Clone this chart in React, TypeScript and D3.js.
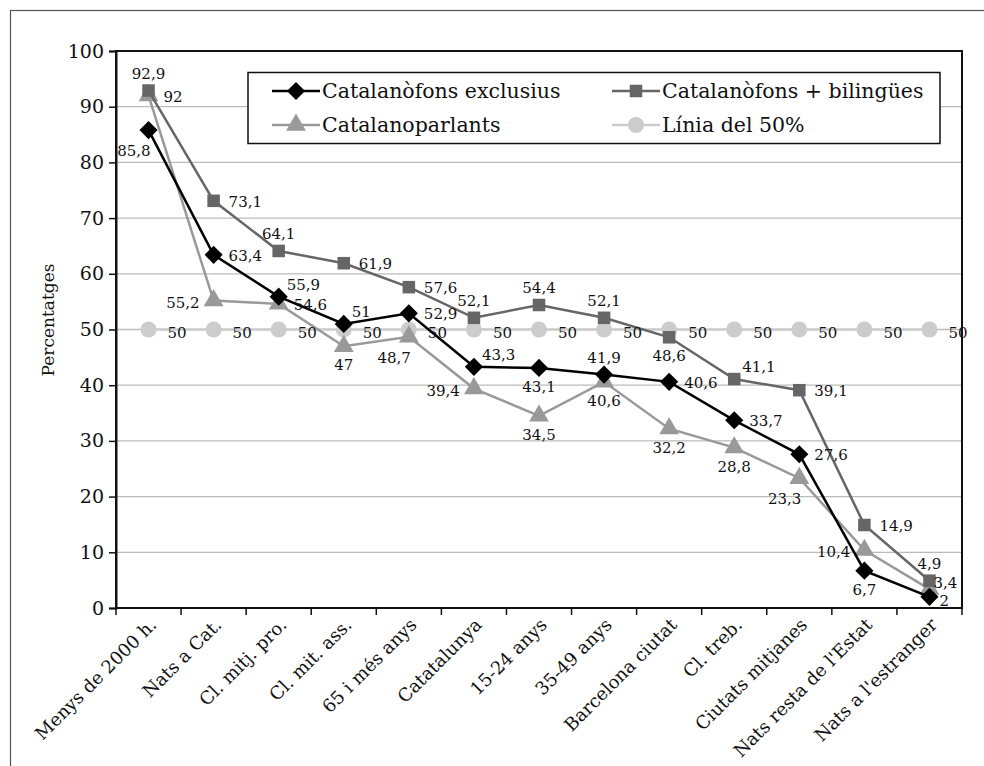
import React, { useEffect, useRef } from 'react';
import * as d3 from 'd3';

const categories = [
  'Menys de 2000 h.', 'Nats a Cat.', 'Cl. mitj. pro.', 'Cl. mit. ass.', '65 i més anys',
  'Catatalunya', '15-24 anys', '35-49 anys', 'Barcelona ciutat', 'Cl. treb.',
  'Ciutats mitjanes', "Nats resta de l'Estat", "Nats a l'estranger",
];

const exclusius = [85.8, 63.4, 55.9, 51, 52.9, 43.3, 43.1, 41.9, 40.6, 33.7, 27.6, 6.7, 2];
const bilingues = [92.9, 73.1, 64.1, 61.9, 57.6, 52.1, 54.4, 52.1, 48.6, 41.1, 39.1, 14.9, 4.9];
const parlants = [92, 55.2, 54.6, 47, 48.7, 39.4, 34.5, 40.6, 32.2, 28.8, 23.3, 10.4, 3.4];
const linia50 = [50, 50, 50, 50, 50, 50, 50, 50, 50, 50, 50, 50, 50];

const yTicks = [0, 10, 20, 30, 40, 50, 60, 70, 80, 90, 100];

// where each value label sits relative to its point (r right, l left, a above, b below, ...)
const exclusiusPos = ['bl', 'r', 'ar', 'ar', 'r', 'ar', 'b', 'a', 'r', 'r', 'r', 'b', 'rb'];
const bilinguesPos = ['a', 'r', 'a', 'r', 'r', 'a', 'a', 'a', 'b', 'ar', 'r', 'r', 'a'];
const parlantsPos = ['r', 'l', 'r', 'b', 'bl', 'l', 'b', 'b', 'b', 'b', 'bl', 'l', 'rt'];
const liniaPos = ['c', 'c', 'c', 'c', 'c', 'c', 'c', 'c', 'c', 'c', 'c', 'c', 'c'];

const FONT = "'DejaVu Serif', 'Liberation Serif', serif";

const App: React.FC = () => {
  const svgRef = useRef<SVGSVGElement>(null);

  useEffect(() => {
    if (!svgRef.current) return;
    const svg = d3.select(svgRef.current);
    svg.selectAll('*').remove();

    const width = 984;
    const height = 766;
    const margin = { top: 51, right: 22, bottom: 158, left: 116 };

    // outer frame
    svg.append('rect')
      .attr('x', 10.5).attr('y', 10.5)
      .attr('width', 990).attr('height', 800)
      .attr('fill', 'white')
      .attr('stroke', '#555').attr('stroke-width', 1.2);

    const x = d3.scaleBand()
      .domain(categories)
      .range([margin.left, width - margin.right]);

    const y = d3.scaleLinear()
      .domain([0, 100])
      .range([height - margin.bottom, margin.top]);

    const cx = (i: number) => x(categories[i])! + x.bandwidth() / 2;

    // gridlines
    svg.append('g')
      .selectAll('line')
      .data(yTicks.filter(t => t > 0 && t < 100))
      .join('line')
      .attr('x1', margin.left).attr('x2', width - margin.right)
      .attr('y1', d => y(d)).attr('y2', d => y(d))
      .attr('stroke', '#bbbbbb').attr('stroke-width', 1.3);

    // plot box
    svg.append('rect')
      .attr('x', margin.left).attr('y', margin.top)
      .attr('width', width - margin.right - margin.left)
      .attr('height', y(0) - y(100))
      .attr('fill', 'none').attr('stroke', '#111').attr('stroke-width', 2);

    // y axis
    const yAxis = svg.append('g')
      .attr('transform', `translate(${margin.left},0)`)
      .call(d3.axisLeft(y).tickValues(yTicks).tickSize(7).tickPadding(5));
    yAxis.select('.domain').attr('stroke', '#111').attr('stroke-width', 2);
    yAxis.selectAll('.tick line').attr('stroke', '#111').attr('stroke-width', 1.5);
    yAxis.selectAll('text')
      .attr('font-family', FONT).attr('font-size', 19).attr('fill', '#111');

    // x axis with boundary ticks
    const bounds = d3.range(categories.length + 1).map(i => margin.left + i * x.bandwidth());
    svg.append('line')
      .attr('x1', margin.left).attr('x2', width - margin.right)
      .attr('y1', y(0)).attr('y2', y(0))
      .attr('stroke', '#111').attr('stroke-width', 2);
    svg.append('g')
      .selectAll('line')
      .data(bounds)
      .join('line')
      .attr('x1', d => d).attr('x2', d => d)
      .attr('y1', y(0)).attr('y2', y(0) + 7)
      .attr('stroke', '#111').attr('stroke-width', 1.5);

    svg.append('g')
      .selectAll('text')
      .data(categories)
      .join('text')
      .attr('transform', (_, i) => `translate(${cx(i) + 9},${y(0) + 18}) rotate(-45)`)
      .attr('text-anchor', 'end')
      .attr('font-family', FONT).attr('font-size', 18).attr('fill', '#111')
      .text(d => d);

    // y title
    svg.append('text')
      .attr('transform', `translate(${54},${320}) rotate(-90)`)
      .attr('text-anchor', 'middle')
      .attr('font-family', FONT).attr('font-size', 17).attr('fill', '#111')
      .text('Percentatges');

    const line = d3.line<number>()
      .x((_, i) => cx(i))
      .y(d => y(d));

    const diamond = d3.symbol().type(d3.symbolDiamond2).size(210)();
    const square = d3.symbol().type(d3.symbolSquare2).size(200)();
    const triangle = d3.symbol().type(d3.symbolTriangle).size(170)();

    type S = { name: string; values: number[]; pos: string[]; color: string; marker: string; width: number; circle?: boolean };
    const series: S[] = [
      { name: 'Línia del 50%', values: linia50, pos: liniaPos, color: '#cccccc', marker: '', width: 2.5, circle: true },
      { name: 'Catalanoparlants', values: parlants, pos: parlantsPos, color: '#999999', marker: triangle, width: 2.5 },
      { name: 'Catalanòfons + bilingües', values: bilingues, pos: bilinguesPos, color: '#666666', marker: square, width: 2.5 },
      { name: 'Catalanòfons exclusius', values: exclusius, pos: exclusiusPos, color: '#000000', marker: diamond, width: 2.5 },
    ];

    const drawMarker = (g: d3.Selection<SVGGElement, unknown, null, undefined>, s: S, px: number, py: number) => {
      if (s.circle) {
        g.append('circle').attr('cx', px).attr('cy', py).attr('r', 8).attr('fill', s.color);
      } else {
        g.append('path').attr('d', s.marker)
          .attr('transform', `translate(${px},${py})`)
          .attr('fill', s.color);
      }
    };

    series.forEach(s => {
      const g = svg.append('g');
      g.append('path')
        .datum(s.values)
        .attr('d', line)
        .attr('fill', 'none')
        .attr('stroke', s.color)
        .attr('stroke-width', s.width);
      s.values.forEach((v, i) => drawMarker(g, s, cx(i), y(v)));
    });

    // value labels on top
    const fmt = (v: number) => String(v).replace('.', ',');
    const offsets: Record<string, [number, number, string]> = {
      r: [15, 6, 'start'],
      l: [-14, 7, 'end'],
      a: [0, -12, 'middle'],
      b: [0, 24, 'middle'],
      ar: [8, -7, 'start'],
      bl: [2, 26, 'end'],
      c: [19, 8, 'start'],
      rt: [4, -1, 'start'],
      rb: [10, 9, 'start'],
    };
    series.forEach(s => {
      svg.append('g')
        .selectAll('text')
        .data(s.values)
        .join('text')
        .attr('x', (_, i) => cx(i) + offsets[s.pos[i]][0])
        .attr('y', (d, i) => y(d) + offsets[s.pos[i]][1])
        .attr('text-anchor', (_, i) => offsets[s.pos[i]][2])
        .attr('font-family', FONT).attr('font-size', 15).attr('fill', '#111')
        .text(d => fmt(d));
    });

    // legend
    const legend = svg.append('g');
    legend.append('rect')
      .attr('x', 248).attr('y', 72.5)
      .attr('width', 692).attr('height', 71)
      .attr('fill', 'white').attr('stroke', '#111').attr('stroke-width', 1.5);
    const legendOrder = [series[3], series[2], series[1], series[0]];
    legendOrder.forEach((s, k) => {
      const lx = k % 2 === 0 ? 272 : 612;
      const ly = k < 2 ? 91 : 125;
      legend.append('line')
        .attr('x1', lx).attr('x2', lx + 48)
        .attr('y1', ly).attr('y2', ly)
        .attr('stroke', s.color).attr('stroke-width', s.width);
      drawMarker(legend, s, lx + 24, ly);
      legend.append('text')
        .attr('x', lx + 50).attr('y', ly + 7)
        .attr('font-family', FONT).attr('font-size', 20.5).attr('fill', '#111')
        .text(s.name);
    });
  }, []);

  return (
    <svg
      ref={svgRef}
      width={984}
      height={766}
      style={{ position: 'absolute', left: 0, top: 0, background: 'white' }}
    />
  );
};

export default App;
